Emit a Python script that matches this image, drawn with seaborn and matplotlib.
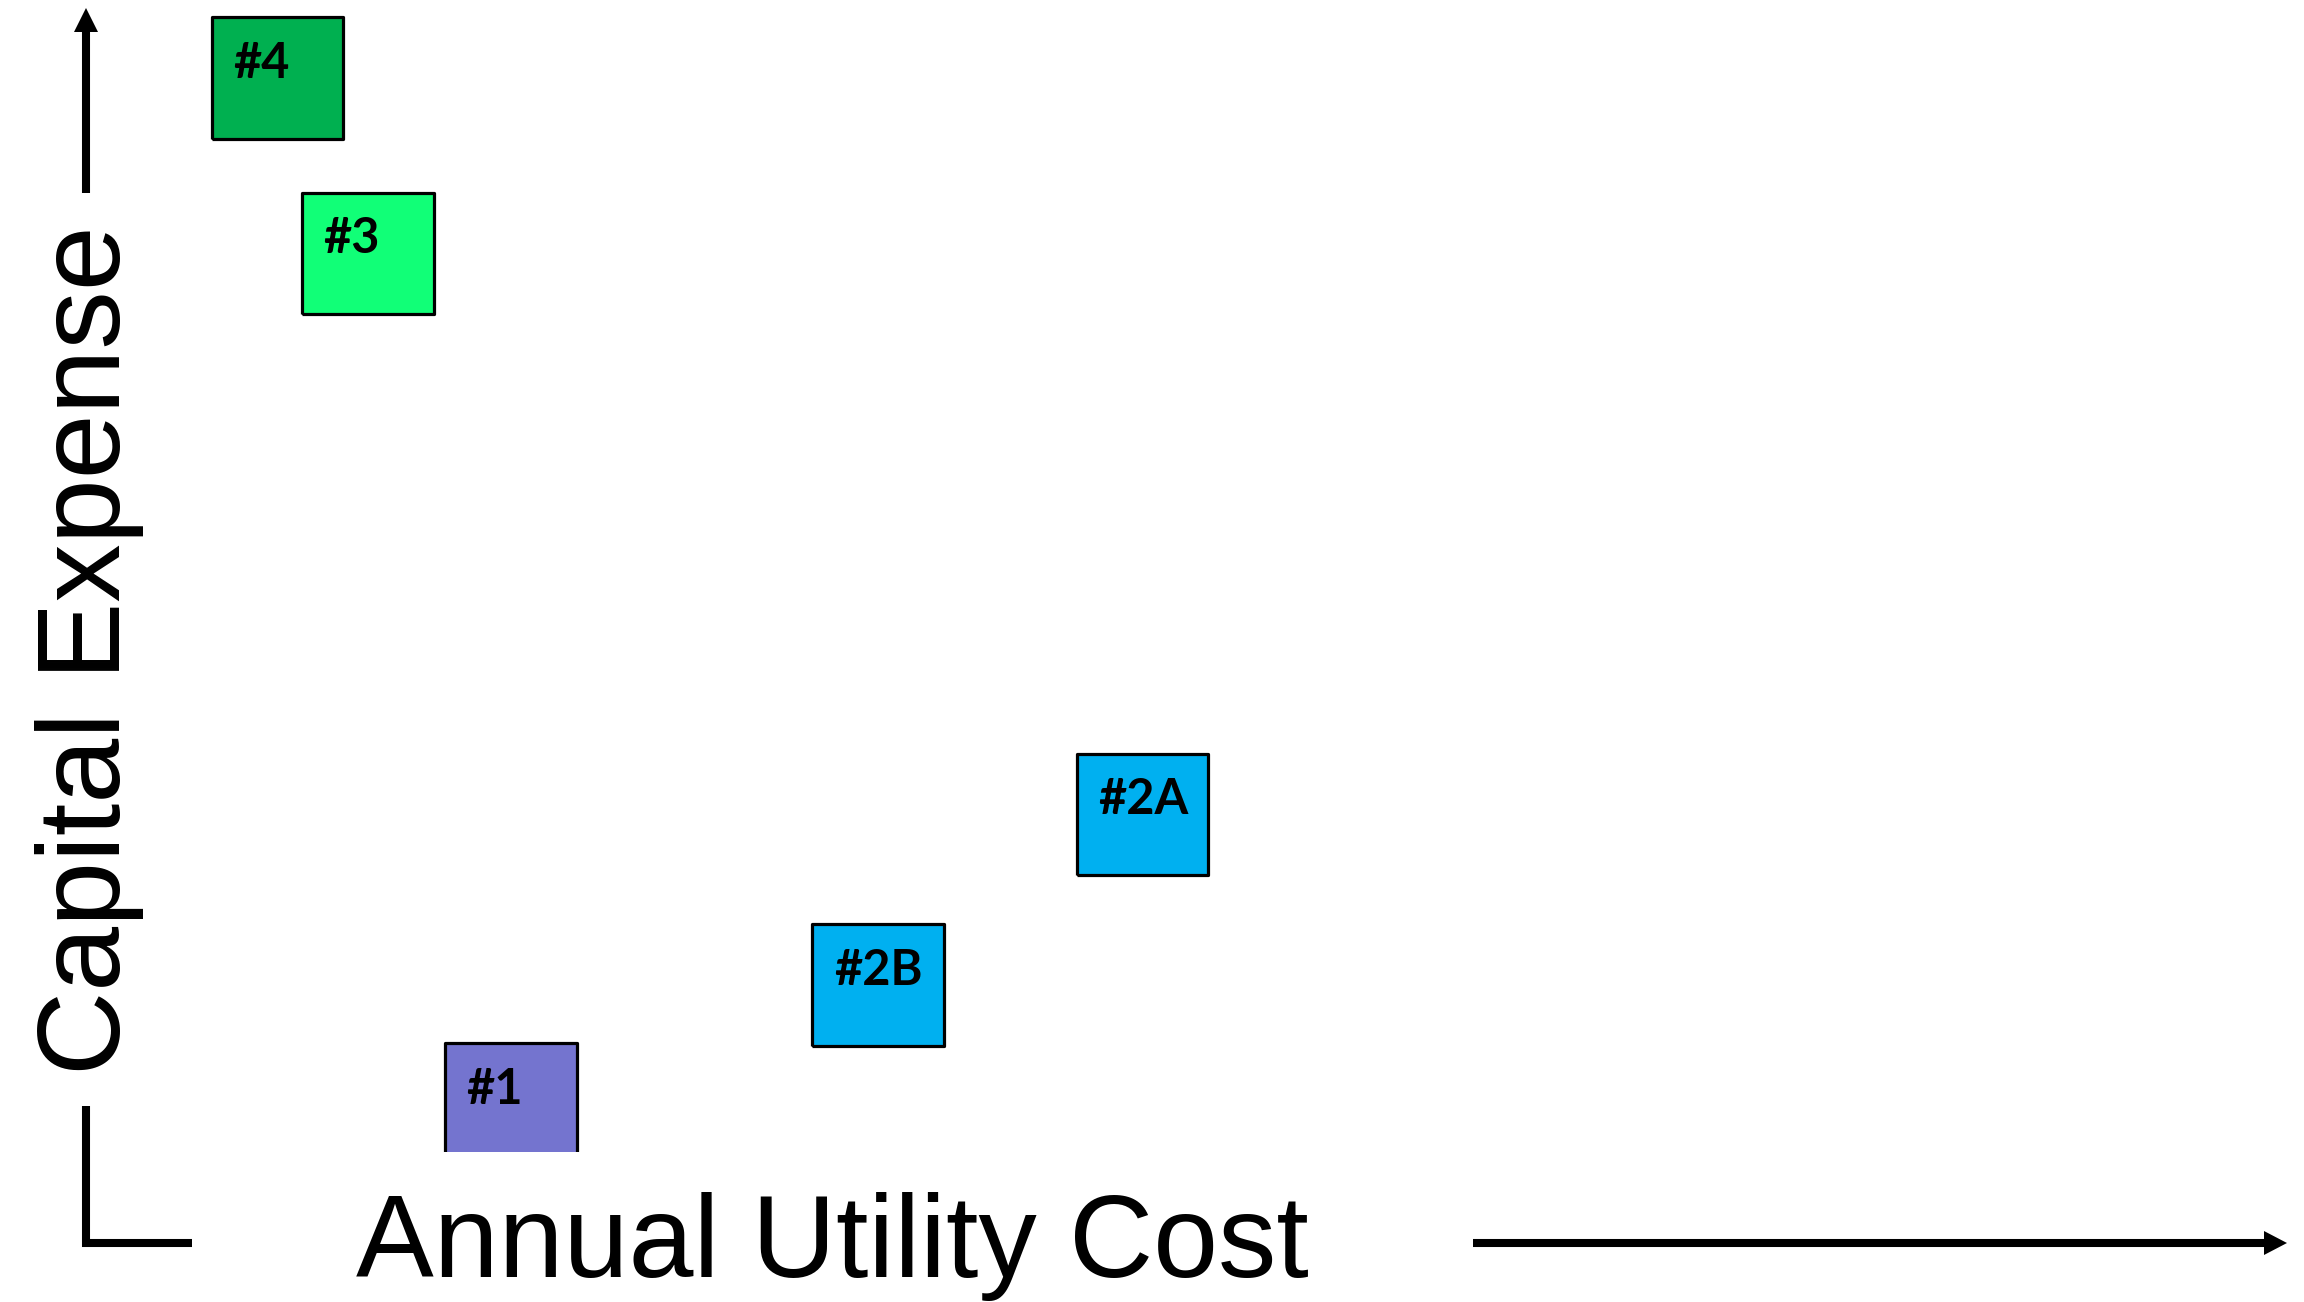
import matplotlib
matplotlib.use("Agg")
import matplotlib.pyplot as plt
from matplotlib.lines import Line2D
from matplotlib.patches import Polygon
import seaborn as sns
import pandas as pd

# options and where they sit (arbitrary units, 0-10)
options = ["#1", "#2B", "#2A", "#3", "#4"]
utility_cost = [1.93, 3.60, 4.80, 1.28, 0.87]
capital_expense = [0.42, 1.45, 2.93, 7.80, 9.32]
box_colors = ["#7474CF", "#00B0F0", "#00B0F0", "#11FF77", "#00B050"]

sns.set_theme(style="white")
plt.rcParams['font.family'] = ['Liberation Sans', 'DejaVu Sans']

W, H = 2304, 1302
fig = plt.figure(figsize=(W / 100, H / 100), dpi=100)
fig.patch.set_facecolor("white")


def px(x, y):
    # figure pixels (top-left origin) -> figure fraction
    return x / W, 1 - y / H


ax = fig.add_axes([86 / W, 150 / H, 2201 / W, 1152 / H])
ax.set_xlim(0, 10)
ax.set_ylim(0, 10)
ax.axis("off")

df = pd.DataFrame({"Option": options,
                   "Annual Utility Cost": utility_cost,
                   "Capital Expense": capital_expense})

box = [(-66, -61), (66, -61), (66, 61), (-66, 61), (-66, -61)]
sns.scatterplot(data=df, x="Annual Utility Cost", y="Capital Expense",
                hue="Option", palette=dict(zip(options, box_colors)),
                marker=box, s=9000, edgecolor="black", linewidth=2.3,
                legend=False, ax=ax)

for name, xv, yv in zip(options, utility_cost, capital_expense):
    ax.annotate(name, (xv, yv), xytext=(-32, 0), textcoords="offset points",
                ha="left", va="baseline", fontsize=35, fontweight="bold",
                family=["Lato", "DejaVu Sans"], color="black")

# axis arrows drawn in figure space
lw = 5.8
def seg(pts, **kw):
    xs, ys = zip(*[px(*p) for p in pts])
    fig.add_artist(Line2D(xs, ys, transform=fig.transFigure, color="black",
                          lw=lw, solid_capstyle="butt",
                          solid_joinstyle="miter", **kw))

def head(pts):
    fig.add_artist(Polygon([px(*p) for p in pts], closed=True,
                           transform=fig.transFigure, facecolor="black",
                           edgecolor="none"))

seg([(86, 193), (86, 30)])
head([(86, 8), (74, 32), (98, 32)])
seg([(86, 1106), (86, 1243), (192, 1243)])
seg([(1473, 1243), (2266, 1243)])
head([(2287, 1243), (2264, 1231), (2264, 1255)])

fig.text(*px(832, 1277), "Annual Utility Cost", fontsize=84,
         ha="center", va="baseline", color="black")
fig.text(*px(120, 650), "Capital Expense", fontsize=84, rotation=90,
         rotation_mode="anchor", ha="center", va="baseline", color="black")

fig.savefig("out.png", dpi=100)
